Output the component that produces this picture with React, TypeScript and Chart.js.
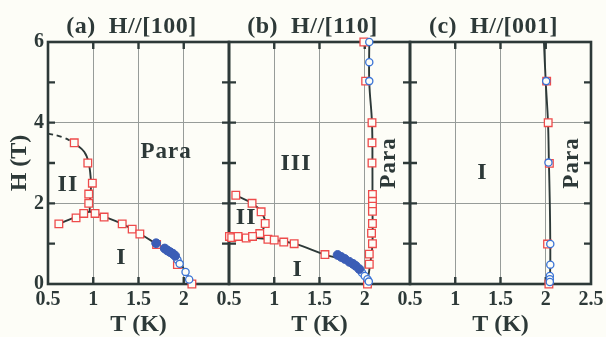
import React, { useEffect, useRef } from 'react';
import { Chart, registerables } from 'chart.js';
Chart.register(...registerables);

// ---------- axes ----------
const T_TICKS = [0.5, 1, 1.5, 2, 2.5];
const T_TICK_LABELS = ['0.5', '1', '1.5', '2', '2.5'];
const H_TICKS = [0, 1, 2, 3, 4, 5, 6];
const H_TICK_LABELS = ['0', '', '2', '', '4', '', '6'];
const T_GRID = [1, 1.5, 2];
const H_GRID = [2, 4];

// ---------- panel (a) H//[100] ----------
const aSqT = [0.62, 0.81, 0.895, 0.95, 0.95, 0.99, 0.94, 0.79, 1.02, 1.12, 1.32, 1.43, 1.515, 1.70, 1.93, 2.09];
const aSqH = [1.49, 1.64, 1.75, 2.0, 2.23, 2.5, 3.0, 3.5, 1.75, 1.66, 1.49, 1.36, 1.24, 0.98, 0.48, 0.0];
const aFillT = [1.695, 1.79, 1.82, 1.85, 1.88, 1.905];
const aFillH = [1.01, 0.88, 0.83, 0.79, 0.75, 0.70];
const aOpenT = [1.93, 1.955, 2.02, 2.06];
const aOpenH = [0.6, 0.5, 0.3, 0.11];
const aLowT = [0.62, 0.8, 0.96, 1.12, 1.32, 1.52, 1.7, 1.85, 1.95, 2.02, 2.09];
const aLowH = [1.49, 1.66, 1.79, 1.67, 1.49, 1.24, 0.99, 0.77, 0.55, 0.3, 0.0];
const aUpT = [0.79, 0.9, 0.95, 0.975, 0.965, 0.96];
const aUpH = [3.5, 3.28, 3.0, 2.5, 2.1, 1.79];
const aDashT = [0.5, 0.65, 0.79];
const aDashH = [3.73, 3.65, 3.5];

// ---------- panel (b) H//[110] ----------
const bSqT = [0.575, 0.755, 0.855, 0.9, 0.84, 0.505, 0.53, 0.6, 0.69, 0.76, 0.93, 1.0, 1.105, 1.22, 1.56,
  1.99, 2.01, 2.08, 2.08, 2.08, 2.085, 2.085, 2.085, 2.085, 2.085, 2.075, 2.085, 2.05, 2.05, 2.03];
const bSqH = [2.2, 2.0, 1.79, 1.5, 1.25, 1.18, 1.15, 1.18, 1.14, 1.18, 1.11, 1.09, 1.04, 1.0, 0.73,
  6.0, 5.03, 4.0, 3.5, 3.0, 2.22, 2.05, 1.93, 1.8, 1.5, 1.26, 1.0, 0.74, 0.49, 0.0];
const bFillT = [1.70, 1.74, 1.78, 1.83, 1.87, 1.9, 1.94];
const bFillH = [0.72, 0.67, 0.62, 0.55, 0.5, 0.45, 0.37];
const bOpenT = [1.97, 2.0, 2.03, 2.045, 2.05, 2.05, 2.05];
const bOpenH = [0.28, 0.2, 0.12, 0.06, 5.03, 5.5, 6.0];
const bLowT = [0.5, 0.7, 0.9, 1.22, 1.56, 1.8, 1.95, 2.03];
const bLowH = [1.14, 1.15, 1.12, 1.0, 0.73, 0.57, 0.35, 0.05];
const bUpT = [0.575, 0.755, 0.855, 0.9, 0.84, 0.77];
const bUpH = [2.2, 2.0, 1.79, 1.5, 1.25, 1.17];
const bVertT = [2.05, 2.05, 2.08, 2.085, 2.085, 2.085, 2.06, 2.03];
const bVertH = [6.0, 5.0, 4.0, 3.0, 2.0, 1.0, 0.5, 0.05];

// ---------- panel (c) H//[001] ----------
const cSqT = [2.01, 2.027, 2.04, 2.02, 2.035];
const cSqH = [5.03, 4.0, 2.99, 0.99, 0.0];
const cOpenT = [2.005, 2.03, 2.05, 2.05, 2.045, 2.045, 2.045];
const cOpenH = [5.03, 3.01, 0.99, 0.48, 0.2, 0.12, 0.05];
const cVertT = [1.98, 2.0, 2.025, 2.035, 2.045, 2.05, 2.05, 2.045];
const cVertH = [6.0, 5.0, 4.0, 3.0, 2.0, 1.0, 0.5, 0.0];

// ---------- styles ----------
const BG = '#fdfdf7';
const INK = '#2d3938';
const GRID = '#979c99';
const RED = '#ee4b4b';
const BLUE = '#3b74d6';
const BLUE_FILL = '#3b5db6';
const SERIF = "'Liberation Serif', 'Times New Roman', serif";

const zip = (t: number[], h: number[]) => t.map((v, i) => ({ x: v, y: h[i] }));

type Panel = {
  title: string;
  left: number;
  right: number;
  showY: boolean;
  showLastT: boolean;
  squares: { x: number; y: number }[];
  open: { x: number; y: number }[];
  filled: { x: number; y: number }[];
  lines: { pts: { x: number; y: number }[]; dash?: number[] }[];
  labels: { text: string; x: number; y: number; rot?: boolean }[];
};

const TOP = 42;
const BOTTOM = 284;
const W = 606;
const HGT = 337;

const PANELS: Panel[] = [
  {
    title: '(a)  H//[100]', left: 48, right: 229, showY: true, showLastT: false,
    squares: zip(aSqT, aSqH), open: zip(aOpenT, aOpenH), filled: zip(aFillT, aFillH),
    lines: [{ pts: zip(aLowT, aLowH) }, { pts: zip(aUpT, aUpH) }, { pts: zip(aDashT, aDashH), dash: [5, 4] }],
    labels: [
      { text: 'Para', x: 1.806, y: 3.28 },
      { text: 'II', x: 0.72, y: 2.46 },
      { text: 'I', x: 1.31, y: 0.64 },
    ],
  },
  {
    title: '(b)  H//[110]', left: 229, right: 410, showY: false, showLastT: false,
    squares: zip(bSqT, bSqH), open: zip(bOpenT, bOpenH), filled: zip(bFillT, bFillH),
    lines: [{ pts: zip(bLowT, bLowH) }, { pts: zip(bUpT, bUpH) }, { pts: zip(bVertT, bVertH) }],
    labels: [
      { text: 'III', x: 1.24, y: 2.99 },
      { text: 'II', x: 0.69, y: 1.63 },
      { text: 'I', x: 1.26, y: 0.35 },
      { text: 'Para', x: 2.27, y: 3.0, rot: true },
    ],
  },
  {
    title: '(c)  H//[001]', left: 410, right: 591, showY: false, showLastT: true,
    squares: zip(cSqT, cSqH), open: zip(cOpenT, cOpenH), filled: [],
    lines: [{ pts: zip(cVertT, cVertH) }],
    labels: [
      { text: 'I', x: 1.30, y: 2.75 },
      { text: 'Para', x: 2.29, y: 3.0, rot: true },
    ],
  },
];

function makeChart(canvas: HTMLCanvasElement, p: Panel) {
  const datasets: any[] = [];
  p.lines.forEach((l) => {
    datasets.push({
      data: l.pts, showLine: true, pointRadius: 0, borderColor: INK, borderWidth: 1.9,
      borderDash: l.dash || [], tension: 0.4, order: 10, clip: false,
    });
  });
  datasets.push({
    data: p.squares, pointStyle: 'rect', pointRadius: 5.4, borderColor: RED, backgroundColor: BG,
    borderWidth: 1.3, order: 3, clip: false,
  });
  datasets.push({
    data: p.open, pointStyle: 'circle', pointRadius: 3.6, borderColor: BLUE, backgroundColor: BG,
    borderWidth: 1.3, order: 2, clip: false,
  });
  datasets.push({
    data: p.filled, pointStyle: 'circle', pointRadius: 4.4, borderColor: BLUE_FILL, backgroundColor: BLUE_FILL,
    borderWidth: 1, order: 1, clip: false,
  });

  const frame = {
    id: 'frame',
    beforeDatasetsDraw(chart: any) {
      const { ctx, chartArea: a, scales } = chart;
      ctx.save();
      ctx.strokeStyle = INK;
      ctx.lineWidth = 2.6;
      ctx.strokeRect(a.left, a.top, a.right - a.left, a.bottom - a.top);
      ctx.lineWidth = 2.4;
      const L = 7;
      ctx.beginPath();
      H_TICKS.forEach((v) => {
        if (v <= 0 || v >= 6) return;
        const y = scales.y.getPixelForValue(v);
        ctx.moveTo(a.left, y); ctx.lineTo(a.left + L, y);
        ctx.moveTo(a.right, y); ctx.lineTo(a.right - L, y);
      });
      T_TICKS.forEach((v) => {
        if (v <= 0.5 || v >= 2.5) return;
        const x = scales.x.getPixelForValue(v);
        ctx.moveTo(x, a.bottom); ctx.lineTo(x, a.bottom - L);
        ctx.moveTo(x, a.top); ctx.lineTo(x, a.top + L);
      });
      ctx.stroke();
      ctx.restore();
    },
    afterDatasetsDraw(chart: any) {
      const { ctx, chartArea: a, scales } = chart;
      ctx.save();
      ctx.fillStyle = INK;
      ctx.textAlign = 'center';
      ctx.textBaseline = 'middle';
      ctx.font = `bold 24px ${SERIF}`;
      (ctx as any).letterSpacing = '0.5px';
      ctx.fillText(p.title, (a.left + a.right) / 2 - 7, 27);
      (ctx as any).letterSpacing = '1px';
      p.labels.forEach((lb) => {
        const x = scales.x.getPixelForValue(lb.x);
        const y = scales.y.getPixelForValue(lb.y);
        ctx.font = `bold ${lb.text === 'Para' ? 23 : 24}px ${SERIF}`;
        if (lb.rot) {
          ctx.save();
          ctx.translate(x, y);
          ctx.rotate(-Math.PI / 2);
          ctx.fillText(lb.text, 0, 0);
          ctx.restore();
        } else {
          ctx.fillText(lb.text, x, y);
        }
      });
      ctx.restore();
    },
  };

  const yW = p.showY ? p.left : 20;
  return new Chart(canvas, {
    type: 'scatter',
    data: { datasets },
    options: {
      responsive: false,
      animation: false,
      events: [],
      layout: { padding: { left: p.left - yW, right: W - p.right, top: TOP, bottom: 0 } },
      plugins: { legend: { display: false }, tooltip: { enabled: false }, title: { display: false } },
      scales: {
        x: {
          type: 'linear', min: 0.5, max: 2.5,
          afterBuildTicks: (s: any) => { s.ticks = T_TICKS.map((v) => ({ value: v })); },
          ticks: {
            autoSkip: false, maxRotation: 0, padding: 6, color: INK,
            font: { family: SERIF, weight: 'bold', size: 20, lineHeight: 1 },
            callback: (v: any) => {
              const i = T_TICKS.indexOf(Number(v));
              if (i === T_TICKS.length - 1 && !p.showLastT) return '';
              return T_TICK_LABELS[i];
            },
          },
          grid: {
            drawTicks: false, lineWidth: 1,
            color: (c: any) => (c.tick && T_GRID.includes(c.tick.value) ? GRID : 'rgba(0,0,0,0)'),
          },
          border: { display: false },
          title: {
            display: true, text: 'T (K)', color: INK, padding: { top: 0, bottom: 0 },
            font: { family: SERIF, weight: 'bold', size: 24, lineHeight: 1 },
          },
          afterFit: (s: any) => { s.height = HGT - BOTTOM; s.paddingLeft = 0; s.paddingRight = 0; },
        },
        y: {
          type: 'linear', min: 0, max: 6,
          afterBuildTicks: (s: any) => { s.ticks = H_TICKS.map((v) => ({ value: v })); },
          ticks: {
            display: p.showY, padding: 4, color: INK,
            font: { family: SERIF, weight: 'bold', size: 20, lineHeight: 1 },
            callback: (v: any) => H_TICK_LABELS[H_TICKS.indexOf(Number(v))],
          },
          grid: {
            drawTicks: false, lineWidth: 1,
            color: (c: any) => (c.tick && H_GRID.includes(c.tick.value) ? GRID : 'rgba(0,0,0,0)'),
          },
          border: { display: false },
          title: {
            display: p.showY, text: 'H (T)', color: INK, padding: { top: 8, bottom: 0 },
            font: { family: SERIF, weight: 'bold', size: 24, lineHeight: 1 },
          },
          afterFit: (s: any) => { s.width = yW; s.paddingTop = 0; s.paddingBottom = 0; },
        },
      },
    } as any,
    plugins: [frame],
  });
}

function PanelCanvas({ panel }: { panel: Panel }) {
  const ref = useRef<HTMLCanvasElement>(null);
  useEffect(() => {
    const chart = makeChart(ref.current as HTMLCanvasElement, panel);
    return () => chart.destroy();
  }, [panel]);
  return (
    <canvas
      ref={ref}
      width={W}
      height={HGT}
      style={{ position: 'absolute', left: 0, top: 0, width: W, height: HGT }}
    />
  );
}

export default function App() {
  return (
    <div style={{ position: 'absolute', left: 0, top: 0, width: W, height: HGT, background: BG, overflow: 'hidden' }}>
      {PANELS.map((p) => (
        <PanelCanvas key={p.title} panel={p} />
      ))}
    </div>
  );
}
